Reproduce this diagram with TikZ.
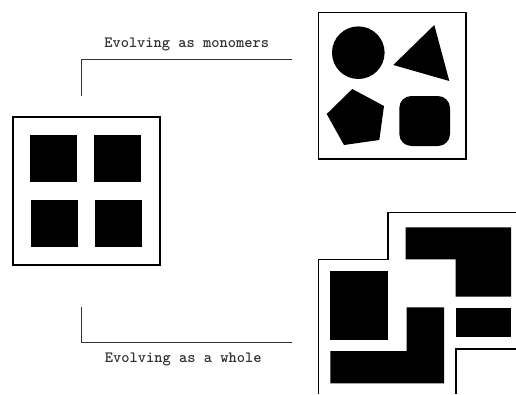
\documentclass[tikz,border=0pt]{standalone}
\usepackage{fontspec}
\begin{document}
\begin{tikzpicture}[x=1pt,y=-1pt,
  frame/.style={draw=black,line width=1.6pt},
  blob/.style={fill=black,draw=none},
  link/.style={draw=black!80,line width=1.1pt},
  lbl/.style={font=\ttfamily\bfseries\fontsize{15.7}{17}\selectfont,text=black!80,inner sep=0pt}]
\useasboundingbox (0,0) rectangle (516,394);
% left box
\node[frame,minimum width=147pt,minimum height=148pt,inner sep=0pt] (left) at (86.6,191.2) {};
\fill[blob] (30,135) rectangle (76.7,181.7);
\fill[blob] (94,135) rectangle (140.7,181.7);
\fill[blob] (30.7,200) rectangle (77.7,246.7);
\fill[blob] (95,200) rectangle (141.7,246.7);
% top right box
\node[frame,minimum width=147.7pt,minimum height=146.7pt,inner sep=0pt] (mono) at (392.2,85.7) {};
\fill[blob] (358.3,52.7) circle (26.3);
\fill[blob] (434.3,25) -- (393.3,65) -- (449.3,81) -- cycle;
\fill[blob] (352.3,89) -- (384,106) -- (379.3,140) -- (344,145) -- (326.7,114) -- cycle;
\fill[blob,rounded corners=12pt] (399.3,96) rectangle (450,146);
% bottom right
\draw[frame] (318.3,394) -- (318.3,259.3) -- (388,259.3) -- (388,212.5) -- (516,212.5);
\draw[frame] (516,349) -- (456,349) -- (456,394);
\fill[blob] (405.7,227.3) -- (511,227.3) -- (511,296.7) -- (455.7,296.7) -- (455.7,259.3) -- (405.7,259.3) -- cycle;
\fill[blob] (330.3,270.7) rectangle (387.7,340);
\fill[blob] (406.7,307.3) -- (444,307.3) -- (444,383.3) -- (330.3,383.3) -- (330.3,351) -- (406.7,351) -- cycle;
\fill[blob] (456,308.3) rectangle (511,336.7);
% connectors
\coordinate (a1) at (81.7,95.7);
\coordinate (a2) at (292.3,59.3);
\coordinate (b1) at (81.7,306.7);
\coordinate (b2) at (292.3,342.3);
\draw[link] (a1) |- (a2);
\draw[link] (b1) |- (b2);
\node[lbl] (tmono) at (186.7,44.3) {Evolving as monomers};
\node[lbl] (twhole) at (183.3,359.3) {Evolving as a whole};
\end{tikzpicture}
\end{document}
